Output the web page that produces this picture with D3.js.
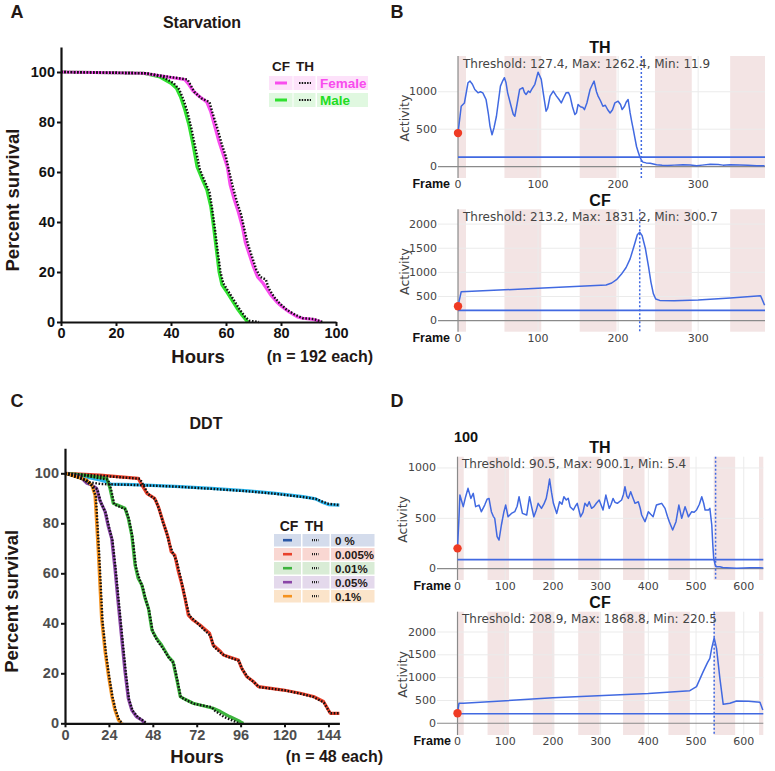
<!DOCTYPE html>
<html><head><meta charset="utf-8">
<script src="https://cdn.jsdelivr.net/npm/d3@7"></script>
<style>body{margin:0;background:#fff}svg{display:block}</style>
</head><body>
<svg id="fig" width="775" height="771"></svg>
<script>
// ---------- DATA ----------
// Panel A: Starvation survival (hours, percent)
const starvHoursTicks = [0, 20, 40, 60, 80, 100];
const survTicks = [0, 20, 40, 60, 80, 100];
const femaleCF = [[0,100],[30,99.5],[36,98.5],[40,97.8],[45,97],[46.5,95],[48,92.5],[50,90.5],[53,88],[54.5,84],[56,78],[57.5,72],[59,67],[60.5,62],[61.5,55],[63,49],[64.5,44],[66,38],[67,32],[68.5,27],[70,22],[71.5,18],[73.5,15.5],[75,13],[76.5,10.5],[78.5,8],[80.5,6],[83,4],[86,2],[88,1.5],[92,1],[94.5,0]];
const femaleTH = [[0,100],[31,99.5],[37,98.5],[41,97.8],[46,97],[47,95],[48.5,92],[51,89.5],[54,88],[55,84],[57,77],[58.5,71],[60,66],[61,61],[62.5,54],[64,48],[65.5,43],[66.5,38],[68,31],[69.5,26],[71,21],[72.5,18],[74.5,17],[75.5,13.5],[77.5,10],[79.5,7.5],[82,5],[85,3],[88,1.5],[92,1.2],[95,0]];
const maleCF = [[0,100],[30,99.5],[36,98],[40,95.5],[42,93.5],[43.5,90],[45,85],[46.5,79],[48,71],[49.5,62],[51,58],[53,53],[54.5,46],[55.5,38],[56.5,29],[57.5,20],[58.5,15],[60,12.5],[62,9],[64,5.5],[66,2.5],[67.5,0.5],[68,0]];
const maleTH = [[0,100],[31,99.5],[37,98],[41,95.5],[43,93],[44.5,89],[46,84],[47.5,77],[49,69],[50.5,61],[52,57],[54,52],[55,45],[56,37],[57,28],[58,20],[59,15.5],[61,12],[63,8.5],[65,5],[67,2],[68.5,0.5],[72,0]];
const starvGroups = ["Female", "Male"];

// Panel C: DDT survival (hours, percent)
const ddtHoursTicks = [0, 24, 48, 72, 96, 120, 144];
const ddtGroups = ["0 %", "0.005%", "0.01%", "0.05%", "0.1%"];
const ddt0CF = [[0,100],[10,98.7],[19,97.3],[23,96.5],[25,95.7],[37,95.5],[60,94.8],[80,94],[100,93],[115,92],[130,90.7],[137,89.8],[141,88.3],[144,87.5],[150,87.3]];
const ddt0TH = [[0,100],[8,98],[13,96.5],[20,95.7],[40,95.3],[60,94.7],[80,93.8],[100,92.8],[115,91.8],[130,90.5],[137,89.8],[141,88.6],[144,87.8],[150,87.3]];
const ddt005CF = [[0,100],[19,99.3],[40,98],[42,95.3],[44.7,92],[49,90],[51,86.7],[53,82],[54.7,78],[56.5,74],[58,68.7],[60,67.3],[62,60.7],[64,55.3],[65.6,50],[67.4,43.3],[70,41.3],[73.8,39.3],[79,36],[81,31.3],[85,28.7],[86.6,27.3],[94.8,25.3],[96.6,22],[99.3,18.7],[103,16.7],[105.7,14.7],[119.4,13.3],[128.5,12],[135.8,10.7],[141.3,8.7],[145,4],[150,4]];
const ddt005TH = [[0,100],[20,99],[41,97.8],[43,95],[45.5,91.7],[49.5,89.5],[51.5,85.5],[53.5,80.5],[55.5,76.5],[57,72],[59,68],[61,65],[63,59],[64.5,54],[66,49],[68,43],[71,41],[74.5,38.5],[79.5,35],[81.5,30.5],[85.5,28],[87.5,27],[95,25],[97,21.5],[100,18.3],[103.5,16.3],[106,14.5],[120,13.2],[129,11.8],[136,10.5],[141.5,8.3],[145,4],[150,4]];
const ddt01CF = [[0,100],[10,99.3],[22.8,98],[24.6,94],[26.4,88],[32.8,86],[34.6,82],[36.5,75.3],[38.3,63.3],[40,58],[42,55.3],[43.8,50],[45.6,46],[47.5,37.3],[50,34],[52.8,31.3],[56.5,26.7],[59,24.7],[61,18],[63,10.7],[66.5,9.3],[70,8],[81,6],[85,4.7],[90,2.7],[95.7,0.7],[97.5,0]];
const ddt01TH = [[0,100],[11,99],[23.5,97.5],[25.2,93.5],[27,87.5],[33.3,85.5],[35.2,81],[37,74],[38.8,62.5],[40.8,57.5],[42.5,54.5],[44.3,49],[46,45],[48,36.5],[50.5,33],[53.5,30],[57,26],[59.5,24],[61.5,17],[63.3,10.5],[67,9],[71,7.7],[80,6.5],[82,5],[87,2.5],[92,1],[95,0]];
const ddt05CF = [[0,100],[8.2,98.7],[12,96],[14.6,95.3],[17.3,94],[19,89.3],[21.9,84.7],[23.7,78.7],[25.5,74],[27.3,62],[29,48.7],[31,34],[32.8,20.7],[34.6,10],[36.5,5.3],[39,2.7],[42,1.3],[43.7,0]];
const ddt05TH = [[0,100],[9,98.5],[12.5,96.2],[15,95],[17.8,93.5],[19.5,88.5],[22.4,84],[24.2,78],[26,73],[27.8,61],[29.5,48],[31.5,33],[33.3,20],[35,9.5],[37,5],[40,2.3],[43,1],[44.5,0]];
const ddt1CF = [[0,100],[11.8,97.3],[14.6,95.3],[16.4,91.3],[18.2,68.7],[20,42],[21.9,28.7],[23.7,19.3],[25.5,11.3],[27.3,5.3],[29.2,1.3],[31,0]];
const ddt1TH = [[0,100],[12.3,97],[15,95],[16.9,90.5],[18.7,67.5],[20.5,41],[22.4,28],[24.2,18.5],[26,10.5],[27.8,5],[29.7,1.2],[31.5,0]];

// Panel B: activity traces (frame, activity)
const bFrameTicks = [0, 100, 200, 300];
const bTHTicks = [0, 500, 1000];
const bCFTicks = [0, 500, 1000, 1500, 2000];
const bBands = [[0,10],[58,104],[152,198],[246,292],[340,386]];
const bTH = [[0,448],[4,807],[8,850],[12.5,1121],[15,1143],[18,1100],[21,1031],[25,986],[28,1000],[31,986],[35,897],[38,700],[40,538],[42.5,426],[45,520],[48,673],[53,1076],[56,1150],[58,1188],[60,1120],[62,986],[66,820],[69,700],[71,673],[74,850],[77,1031],[81,1054],[83,990],[85,964],[88,1010],[90,990],[92,1031],[96,1100],[100,1262],[104,1166],[107,950],[110,740],[112,780],[115,942],[119,1009],[123,942],[126,900],[129,852],[132,920],[135,986],[138,990],[140,942],[143,800],[146,695],[148,720],[150,830],[153,800],[156,790],[158,762],[161,850],[165,1031],[168,1100],[170,1143],[173,1000],[175,942],[178,880],[181,807],[184,820],[187,760],[190,717],[193,760],[196,852],[200,874],[203,830],[205,762],[208,807],[210,860],[212.5,897],[215,717],[217,600],[219,493],[221,380],[223,269],[225,200],[227,134],[229,90],[231,60],[235,50],[240,45],[248,25],[255,18],[262,15],[270,20],[281,25],[290,22],[298,12],[305,20],[315,31],[325,28],[331,20],[340,25],[352,22],[362,18],[373,13],[383,12]];
const bCF = [[0,300],[4,600],[100,670],[185,738],[192,780],[198,850],[204,960],[210,1100],[215,1280],[220,1550],[224,1780],[227,1831],[230,1760],[234,1500],[238,1117],[241,800],[244,560],[247,450],[252,420],[270,414],[300,430],[340,470],[378,517],[383,320]];
const bTHStats = {threshold: 127.4, max: 1262.4, min: 11.9, death: 229};
const bCFStats = {threshold: 213.2, max: 1831.2, min: 300.7, death: 227};

// Panel D: activity traces (frame, activity)
const dFrameTicks = [0, 100, 200, 300, 400, 500, 600];
const dTHTicks = [0, 500, 1000];
const dCFTicks = [0, 500, 1000, 1500, 2000];
const dBands = [[0,13],[63,108],[158,203],[253,298],[347,392],[442,487],[537,582],[632,677]];
const dTH = [[0,202],[3,500],[5,731],[8,682],[12,616],[17,715],[22,798],[28,698],[33,748],[38,616],[45,632],[50,566],[57,632],[62,690],[66,698],[71,566],[75,520],[78,500],[83,318],[87,285],[92,434],[97,560],[101,632],[106,516],[113,549],[120,566],[125,620],[129,715],[136,549],[145,533],[151,715],[156,600],[160,516],[165,580],[169,649],[176,599],[181,640],[186,698],[190,800],[193,890],[197,760],[201,649],[208,549],[214,665],[219,640],[223,715],[228,682],[232,700],[236,616],[243,583],[247,620],[251,649],[258,516],[263,560],[267,649],[272,620],[276,665],[281,600],[286,616],[291,650],[297,682],[302,620],[305,583],[311,731],[318,599],[322,640],[326,698],[330,660],[335,649],[344,682],[348,740],[351,814],[355,720],[358,698],[363,765],[368,700],[372,649],[379,665],[383,600],[386,533],[393,467],[397,520],[400,566],[405,540],[410,516],[417,632],[422,640],[428,649],[435,599],[440,520],[444,467],[451,384],[458,467],[464,632],[470,500],[477,616],[481,560],[484,516],[491,566],[496,560],[501,583],[507,640],[512,715],[516,650],[519,583],[526,583],[529,599],[533,434],[535,250],[537,103],[540,40],[542,20],[550,20],[556,12],[564,10],[575,8],[585,5],[600,8],[613,10],[625,9],[634,10],[641,7]];
const dCF = [[0,219],[3,438],[12,438],[200,560],[400,650],[487,715],[501,803],[515,1131],[524,1330],[529,1423],[533,1650],[538,1869],[543,1642],[550,985],[557,416],[571,438],[585,489],[610,480],[634,460],[640,292]];
const dTHStats = {threshold: 90.5, max: 900.1, min: 5.4, death: 541};
const dCFStats = {threshold: 208.9, max: 1868.8, min: 220.5, death: 538};

// ---------- DRAWING ----------
const svg = d3.select("#fig");
const SANS = "'Liberation Sans', Arial, Helvetica, sans-serif";
const PLOT = "'DejaVu Sans', Verdana, sans-serif";

function label(txt, x, y, o) {
  o = o || {};
  const t = svg.append("text").attr("x", x).attr("y", y)
    .attr("font-family", o.family || SANS)
    .attr("font-size", o.size || 14)
    .attr("font-weight", o.weight || "bold")
    .attr("fill", o.fill || "#000")
    .attr("text-anchor", o.anchor || "middle")
    .attr("dominant-baseline", "central")
    .text(txt);
  if (o.rotate) t.attr("transform", `rotate(${o.rotate},${x},${y})`);
  return t;
}

// panel letters
label("A", 17, 12, {size: 18, fill: "#231815"});
label("B", 397, 12, {size: 18, fill: "#231815"});
label("C", 17, 401, {size: 18, fill: "#231815"});
label("D", 397, 401, {size: 18, fill: "#231815"});

function survivalPanel(o) {
  const x = d3.scaleLinear().domain(o.xDomain).range(o.xRange);
  const y = d3.scaleLinear().domain([0, 110]).range(o.yRange);
  const g = svg.append("g");
  const line = d3.line().x(d => x(d[0])).y(d => y(d[1]));

  o.series.forEach(s => {
    g.append("path").attr("d", line(s.cf)).attr("fill", "none")
      .attr("stroke", s.color).attr("stroke-width", 3.2).attr("stroke-linejoin", "round");
  });
  o.series.forEach(s => {
    g.append("path").attr("d", line(s.th)).attr("fill", "none")
      .attr("stroke", "#111").attr("stroke-width", 2.4).attr("stroke-dasharray", "1.6,1.6");
  });

  const xa = g.append("g").attr("transform", `translate(0,${y(0)})`)
    .call(d3.axisBottom(x).tickValues(o.xTicks).tickSize(4).tickSizeOuter(0).tickPadding(2));
  const ya = g.append("g").attr("transform", `translate(${x(0)},0)`)
    .call(d3.axisLeft(y).tickValues(survTicks).tickSize(4).tickSizeOuter(0).tickPadding(2));
  [xa, ya].forEach(a => {
    a.select(".domain").attr("stroke", "#111").attr("stroke-width", 2.2);
    a.selectAll(".tick line").attr("stroke", "#111").attr("stroke-width", 2);
    a.selectAll(".tick text").attr("font-family", SANS).attr("font-size", 14.5)
      .attr("font-weight", "bold").attr("fill", o.tickColor);
  });

  label(o.title, o.titleX, o.titleY, {size: 16, fill: "#231815"});
  label("Hours", o.hoursX, o.hoursY, {size: 18.5, fill: "#231815"});
  label(o.nText, o.nX, o.hoursY, {size: 16, anchor: "end", fill: "#231815"});
  label("Percent survival", 12, (y(0) + y(100)) / 2 + 3, {size: 18.5, rotate: -90, fill: "#231815"});
  return {x, y};
}

// Panel A
survivalPanel({
  xDomain: [0, 100], xRange: [61, 336], yRange: [322, 47],
  xTicks: starvHoursTicks, tickColor: "#111",
  title: "Starvation", titleX: 202, titleY: 22,
  hoursX: 198, hoursY: 356, nText: "(n = 192 each)", nX: 373,
  series: [
    {cf: maleCF, th: maleTH, color: "#2fe02f"},
    {cf: femaleCF, th: femaleTH, color: "#f84cee"}
  ]
});

// Legend A
(function () {
  label("CF", 281, 66, {size: 13.5, fill: "#231815"});
  label("TH", 305, 66, {size: 13.5, fill: "#231815"});
  const rows = [
    {name: starvGroups[0], color: "#f84cee", bg: "#fde2fa", text: "#f84cee", y: 76},
    {name: starvGroups[1], color: "#2fe02f", bg: "#e0f8e0", text: "#22dd22", y: 93}
  ];
  rows.forEach(r => {
    svg.append("rect").attr("x", 269).attr("y", r.y).attr("width", 23.5).attr("height", 14).attr("fill", r.bg);
    svg.append("rect").attr("x", 293.5).attr("y", r.y).attr("width", 22).attr("height", 14).attr("fill", r.bg);
    svg.append("rect").attr("x", 317).attr("y", r.y).attr("width", 51).attr("height", 14).attr("fill", r.bg);
    svg.append("line").attr("x1", 275).attr("x2", 287).attr("y1", r.y + 7).attr("y2", r.y + 7)
      .attr("stroke", r.color).attr("stroke-width", 3);
    svg.append("line").attr("x1", 299).attr("x2", 311).attr("y1", r.y + 7).attr("y2", r.y + 7)
      .attr("stroke", "#111").attr("stroke-width", 2.2).attr("stroke-dasharray", "1.5,1.2");
    label(r.name, 320, r.y + 7.5, {size: 13.5, anchor: "start", fill: r.text});
  });
})();

// Panel C
const ddtColors = ["#2bb6ee", "#e8412b", "#3db33d", "#8a45a7", "#f5921e"];
survivalPanel({
  xDomain: [0, 150], xRange: [65, 339.4], yRange: [723.3, 448.3],
  xTicks: ddtHoursTicks, tickColor: "#4d4d4d",
  title: "DDT", titleX: 206, titleY: 423,
  hoursX: 197, hoursY: 756, nText: "(n = 48 each)", nX: 383,
  series: [
    {cf: ddt0CF, th: ddt0TH, color: ddtColors[0]},
    {cf: ddt005CF, th: ddt005TH, color: ddtColors[1]},
    {cf: ddt01CF, th: ddt01TH, color: ddtColors[2]},
    {cf: ddt05CF, th: ddt05TH, color: ddtColors[3]},
    {cf: ddt1CF, th: ddt1TH, color: ddtColors[4]}
  ]
});

// Legend C
(function () {
  label("CF", 289, 526, {size: 14, fill: "#231815"});
  label("TH", 314, 526, {size: 14, fill: "#231815"});
  const lineCols = ["#2a58a6", "#e8412b", "#3db33d", "#8a45a7", "#f5921e"];
  const bgs = ["#d4dcec", "#f9d7d2", "#d9ecd6", "#e4d9ec", "#fbe4ca"];
  const ys = [534, 548, 562, 576, 590];
  ddtGroups.forEach((name, i) => {
    const y0 = ys[i];
    svg.append("rect").attr("x", 274).attr("y", y0).attr("width", 27).attr("height", 12.5).attr("fill", bgs[i]);
    svg.append("rect").attr("x", 302.5).attr("y", y0).attr("width", 27).attr("height", 12.5).attr("fill", bgs[i]);
    svg.append("rect").attr("x", 331).attr("y", y0).attr("width", 43.5).attr("height", 12.5).attr("fill", bgs[i]);
    svg.append("line").attr("x1", 283).attr("x2", 292).attr("y1", y0 + 6.2).attr("y2", y0 + 6.2)
      .attr("stroke", lineCols[i]).attr("stroke-width", 2.6);
    svg.append("line").attr("x1", 312).attr("x2", 318.5).attr("y1", y0 + 6.2).attr("y2", y0 + 6.2)
      .attr("stroke", "#222").attr("stroke-width", 2.2).attr("stroke-dasharray", "1,1");
    label(name, 335, y0 + 6.8, {size: 11.5, anchor: "start", fill: "#231815"});
  });
})();

// Activity panels
function activityPanel(o) {
  const x = d3.scaleLinear().domain(o.xDomain).range([o.left, o.right]);
  const y = d3.scaleLinear().domain(o.yDomain).range([o.bottom, o.top]);
  const g = svg.append("g");
  const xMax = o.xDomain[1];
  g.selectAll("rect.band").data(o.bands).join("rect")
    .attr("x", d => x(d[0]))
    .attr("width", d => x(Math.min(d[1], xMax)) - x(d[0]))
    .attr("y", o.top).attr("height", o.bottom - o.top)
    .attr("fill", "#f3e4e4");
  g.selectAll("line.hg").data(o.yTicks.filter(v => v !== 0)).join("line")
    .attr("x1", o.left).attr("x2", o.right).attr("y1", d => y(d)).attr("y2", d => y(d))
    .attr("stroke", "#ebebeb").attr("stroke-width", 1);
  g.selectAll("line.vg").data(o.xTicks.filter(v => v !== 0)).join("line")
    .attr("x1", d => x(d)).attr("x2", d => x(d)).attr("y1", o.top).attr("y2", o.bottom)
    .attr("stroke", "#ebebeb").attr("stroke-width", 1);
  g.append("line").attr("x1", o.left).attr("x2", o.right).attr("y1", y(0)).attr("y2", y(0))
    .attr("stroke", "#8a8a8a").attr("stroke-width", 1.2);
  g.append("line").attr("x1", x(0)).attr("x2", x(0)).attr("y1", o.top).attr("y2", o.bottom)
    .attr("stroke", "#8a8a8a").attr("stroke-width", 1.2);
  g.append("line").attr("x1", x(0)).attr("x2", o.right)
    .attr("y1", y(o.stats.threshold)).attr("y2", y(o.stats.threshold))
    .attr("stroke", "#4169e1").attr("stroke-width", 1.6);
  g.append("line").attr("x1", x(o.stats.death)).attr("x2", x(o.stats.death))
    .attr("y1", o.top).attr("y2", o.bottom)
    .attr("stroke", "#4169e1").attr("stroke-width", 1.5).attr("stroke-dasharray", "2,2");
  const line = d3.line().x(d => x(d[0])).y(d => y(d[1]));
  g.append("path").attr("d", line(o.data)).attr("fill", "none")
    .attr("stroke", "#4169e1").attr("stroke-width", 1.5).attr("stroke-linejoin", "round");
  g.append("circle").attr("cx", x(o.data[0][0])).attr("cy", y(o.data[0][1])).attr("r", 4.2).attr("fill", "#ef3b24");
  g.selectAll("text.yt").data(o.yTicks).join("text")
    .attr("x", o.left - 1).attr("y", d => y(d)).attr("text-anchor", "end")
    .attr("dominant-baseline", "central").attr("font-family", PLOT).attr("font-size", 11)
    .attr("fill", "#444").text(d => d);
  g.selectAll("text.xt").data(o.xTicks).join("text")
    .attr("x", d => x(d)).attr("y", o.bottom + 6.5).attr("text-anchor", "middle")
    .attr("dominant-baseline", "central").attr("font-family", PLOT).attr("font-size", 11)
    .attr("fill", "#444").text(d => d);
  label("Frame", o.frameX, o.bottom + 6, {size: 12.5, anchor: "end", fill: "#111"});
  label("Activity", o.left - 34, (o.top + o.bottom) / 2 + 1, {size: 12.5, weight: "normal", family: PLOT, fill: "#444", rotate: -90});
  label(o.title, 600, o.top - 9, {size: 16, fill: "#111"});
  label(`Threshold: ${o.stats.threshold}, Max: ${o.stats.max}, Min: ${o.stats.min}`, o.annX, o.top + 7.5,
    {size: 12, weight: "normal", family: PLOT, fill: "#444", anchor: "start"});
}

activityPanel({xDomain: [-25, 383.5], left: 438, right: 765, top: 56, bottom: 178,
  yDomain: [-152, 1478], yTicks: bTHTicks, xTicks: bFrameTicks, bands: bBands,
  data: bTH, stats: bTHStats, title: "TH", frameX: 450, annX: 463});
activityPanel({xDomain: [-25, 383.5], left: 438, right: 765, top: 209.3, bottom: 331.7,
  yDomain: [-228, 2306], yTicks: bCFTicks, xTicks: bFrameTicks, bands: bBands,
  data: bCF, stats: bCFStats, title: "CF", frameX: 450, annX: 463});
activityPanel({xDomain: [-43, 641], left: 437, right: 763.3, top: 456.7, bottom: 580,
  yDomain: [-112, 1112], yTicks: dTHTicks, xTicks: dFrameTicks, bands: dBands,
  data: dTH, stats: dTHStats, title: "TH", frameX: 451, annX: 462});
activityPanel({xDomain: [-43, 641], left: 437, right: 763.3, top: 611.7, bottom: 735,
  yDomain: [-257, 2445], yTicks: dCFTicks, xTicks: dFrameTicks, bands: dBands,
  data: dCF, stats: dCFStats, title: "CF", frameX: 451, annX: 462});
label("100", 466, 437, {size: 14.5, fill: "#111"});
</script>
</body></html>
